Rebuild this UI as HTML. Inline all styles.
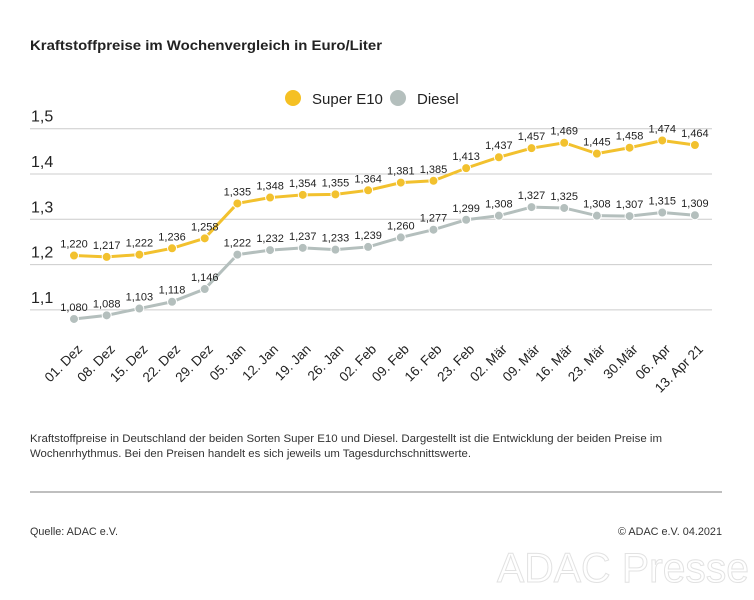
<!DOCTYPE html>
<html><head><meta charset="utf-8"><style>
body{margin:0;background:#fff;width:754px;height:600px;overflow:hidden}
svg{display:block}
text{font-family:"Liberation Sans",sans-serif}
</style></head><body>
<svg id="s" width="754" height="600" viewBox="0 0 754 600" xmlns="http://www.w3.org/2000/svg">
<text x="30" y="50" font-size="13.5" font-weight="bold" fill="#222" textLength="352" lengthAdjust="spacingAndGlyphs">Kraftstoffpreise im Wochenvergleich in Euro/Liter</text>
<circle cx="293" cy="98" r="8" fill="#f5c023"/>
<text x="312" y="104" font-size="15" fill="#222">Super E10</text>
<circle cx="398" cy="98" r="8" fill="#b4bfbd"/>
<text x="417" y="104" font-size="15" fill="#222">Diesel</text>
<g id="grid"></g>
<g id="data"></g>
<text x="30" y="442" font-size="11" fill="#333" textLength="632" lengthAdjust="spacingAndGlyphs">Kraftstoffpreise in Deutschland der beiden Sorten Super E10 und Diesel. Dargestellt ist die Entwicklung der beiden Preise im</text>
<text x="30" y="457" font-size="11" fill="#333" textLength="441" lengthAdjust="spacingAndGlyphs">Wochenrhythmus. Bei den Preisen handelt es sich jeweils um Tagesdurchschnittswerte.</text>
<line x1="30" y1="492" x2="722" y2="492" stroke="#aaa" stroke-width="1.5"/>
<text x="30" y="535" font-size="11" fill="#333" textLength="88" lengthAdjust="spacingAndGlyphs">Quelle: ADAC e.V.</text>
<text x="618" y="535" font-size="11" fill="#333" textLength="104" lengthAdjust="spacingAndGlyphs">© ADAC e.V. 04.2021</text>
<text x="497" y="582" font-size="42" fill="#fff" stroke="#e2e2e2" stroke-width="1" textLength="252" lengthAdjust="spacingAndGlyphs">ADAC Presse</text>
</svg>
<script>
var NS="http://www.w3.org/2000/svg";
function el(p,t,a,txt){var e=document.createElementNS(NS,t);for(var k in a)e.setAttribute(k,a[k]);if(txt)e.textContent=txt;document.getElementById(p).appendChild(e);return e;}
function y(v){return 128.7+(1.5-v)*453;}
[1.5,1.4,1.3,1.2,1.1].forEach(function(v){
 el("grid","line",{x1:30,x2:712,y1:y(v),y2:y(v),stroke:"#ccc","stroke-width":1});
 el("grid","text",{x:31,y:y(v)-7,"font-size":16,fill:"#222"},String(v).replace(".",","));
});
var lab=["01. Dez","08. Dez","15. Dez","22. Dez","29. Dez","05. Jan","12. Jan","19. Jan","26. Jan","02. Feb","09. Feb","16. Feb","23. Feb","02. Mär","09. Mär","16. Mär","23. Mär","30.Mär","06. Apr","13. Apr 21"];
var e10=[1.220,1.217,1.222,1.236,1.258,1.335,1.348,1.354,1.355,1.364,1.381,1.385,1.413,1.437,1.457,1.469,1.445,1.458,1.474,1.464];
var di=[1.080,1.088,1.103,1.118,1.146,1.222,1.232,1.237,1.233,1.239,1.260,1.277,1.299,1.308,1.327,1.325,1.308,1.307,1.315,1.309];
function x(i){return 74+i*32.68;}
function series(d,c){
 var pts=d.map(function(v,i){return x(i)+","+y(v)}).join(" ");
 el("data","polyline",{points:pts,fill:"none",stroke:c,"stroke-width":3});
 d.forEach(function(v,i){
  el("data","circle",{cx:x(i),cy:y(v),r:4.5,fill:c,stroke:"#fff","stroke-width":1});
  el("data","text",{x:x(i),y:y(v)-8,"font-size":11,fill:"#222","text-anchor":"middle"},v.toFixed(3).replace(".",","));
 });
}
series(e10,"#f2c12e");series(di,"#b4bfbd");
lab.forEach(function(l,i){
 var tx=x(i)+9,ty=350;
 el("data","text",{x:tx,y:ty,"font-size":13.5,fill:"#222","text-anchor":"end",transform:"rotate(-45 "+tx+" "+ty+")"},l);
});
</script>
</body></html>
